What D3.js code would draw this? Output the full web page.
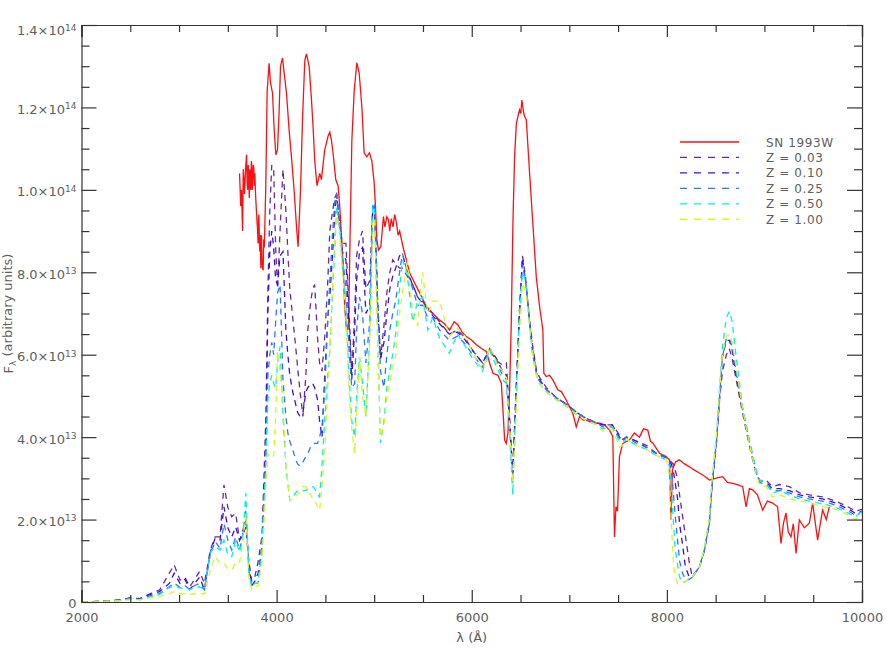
<!DOCTYPE html>
<html>
<head>
<meta charset="utf-8">
<script src="https://cdn.jsdelivr.net/npm/d3@7"></script>
<style>
  body { margin: 0; background: #fff; }
  text { font-family: "DejaVu Sans", sans-serif; fill: #606060; }
</style>
</head>
<body>
<div id="spectrum"></div>
<script>
// wavelength grid shared by the five model spectra (Angstrom)
const lambdaModel = [
  2000,2200,2400,2500,2600,2700,2800,2900,2950,3010,
  3060,3110,3160,3210,3260,3320,3370,3420,3460,3500,
  3540,3580,3620,3650,3685,3715,3745,3775,3810,3850,
  3890,3910,3930,3950,3970,3990,4010,4035,4065,4095,
  4115,4135,4165,4195,4215,4240,4270,4300,4320,4350,
  4370,4390,4420,4440,4465,4495,4525,4545,4575,4595,
  4615,4645,4675,4710,4740,4770,4800,4820,4850,4880,
  4915,4955,4985,5005,5035,5065,5100,5130,5160,5190,
  5220,5260,5290,5340,5395,5445,5495,5550,5600,5670,
  5770,5855,5935,6010,6110,6185,6255,6315,6355,6390,
  6420,6450,6490,6520,6550,6590,6625,6665,6695,6765,
  6870,6970,7075,7175,7280,7340,7440,7515,7545,7585,
  7690,7790,7895,7995,8025,8045,8065,8085,8110,8130,
  8160,8190,8230,8260,8335,8385,8435,8465,8510,8540,
  8570,8610,8640,8670,8710,8775,8845,8915,8950,9020,
  9080,9155,9255,9360,9460,9595,9730,9865,9935,10000
]

// model fluxes, in units of 1e13
const fluxZ003 = [
  0,0.02,0.05,0.1,0.08,0.2,0.29,0.7,0.9,0.53,
  0.6,0.37,0.55,0.74,0.45,1.26,1.58,1.58,2.84,2.3,
  2.07,2.15,1.5,1.6,1.82,1.0,0.5,0.6,0.97,1.6,
  4.5,7.5,9.5,10.6,10.5,8.6,7.6,9.0,10.5,9.5,
  8.5,7.6,6.9,6.2,5.7,5.1,4.5,5.5,6.6,7.3,
  7.6,7.7,6.4,5.8,5.6,6.5,7.8,9.0,9.5,9.8,
  9.9,9.1,8.7,8.7,7.2,5.5,7.0,8.4,8.8,9.0,
  7.6,7.8,9.6,9.5,7.2,5.9,6.7,7.5,8.0,8.3,
  8.2,8.1,8.1,7.9,7.7,7.4,7.3,7.1,7.0,6.8,
  6.5,6.6,6.4,6.1,5.8,6.1,5.85,5.75,5.8,4.4,
  3.1,4.8,7.0,8.4,7.9,6.9,6.2,5.6,5.45,5.2,
  4.95,4.8,4.6,4.45,4.35,4.3,4.3,4.05,3.95,4.0,
  3.9,3.8,3.6,3.5,3.45,3.4,3.35,3.2,3.0,2.6,
  2.1,1.6,0.95,0.62,0.86,1.26,1.91,2.85,3.9,4.9,
  5.6,6.0,6.15,5.9,5.4,4.6,3.8,3.1,2.95,2.95,
  2.8,2.85,2.8,2.65,2.6,2.55,2.45,2.3,2.2,2.25
]
const fluxZ010 = [
  0,0.02,0.05,0.1,0.08,0.18,0.25,0.45,0.7,0.45,
  0.55,0.3,0.45,0.6,0.3,1.2,1.55,1.5,2.31,1.8,
  1.58,1.82,1.5,1.7,1.98,0.9,0.4,0.5,0.7,1.34,
  3.8,7.0,8.5,9.0,8.6,7.8,7.7,8.4,8.5,6.6,
  6.0,5.5,5.1,4.8,4.6,4.5,4.6,5.1,5.2,5.3,
  5.3,5.2,4.9,4.4,4.0,5.6,6.9,7.4,8.5,9.4,
  9.9,9.2,8.5,8.3,6.8,5.4,6.6,7.8,8.5,8.6,
  7.0,7.2,9.5,9.6,7.3,5.9,6.3,7.0,7.6,7.9,
  8.1,8.4,8.45,8.0,7.7,7.4,7.25,7.1,6.95,6.75,
  6.5,6.55,6.35,6.1,5.8,6.15,5.9,5.6,5.5,4.3,
  3.1,4.9,7.1,8.35,7.8,6.85,6.1,5.55,5.4,5.15,
  4.95,4.8,4.6,4.45,4.35,4.3,4.3,4.0,3.9,4.0,
  3.9,3.75,3.6,3.5,3.4,3.35,3.2,2.9,2.5,1.9,
  1.4,0.85,0.6,0.6,0.86,1.26,1.91,2.88,3.93,4.98,
  5.95,6.35,6.35,6.1,5.5,4.7,3.9,3.15,2.95,2.9,
  2.75,2.75,2.7,2.6,2.55,2.5,2.4,2.25,2.15,2.2
]
const fluxZ025 = [
  0,0.02,0.04,0.08,0.06,0.15,0.2,0.37,0.46,0.35,
  0.4,0.3,0.4,0.45,0.3,1.15,1.47,1.3,1.9,1.5,
  1.26,1.58,1.26,1.6,2.23,0.8,0.37,0.45,0.45,1.34,
  3.45,5.5,6.0,6.3,6.0,6.8,7.5,7.7,5.4,4.5,
  4.1,3.9,3.7,3.45,3.35,3.3,3.4,3.53,3.6,3.77,
  3.8,3.85,3.85,4.0,4.25,5.2,6.9,7.8,9.0,9.7,
  9.9,9.2,8.4,7.6,6.2,5.2,5.3,6.6,7.4,7.0,
  5.8,6.8,9.6,9.7,7.2,5.6,5.2,6.0,6.6,7.0,
  7.3,8.0,8.46,8.0,7.6,7.2,7.2,6.9,6.9,6.6,
  6.35,6.45,6.25,6.0,5.7,6.15,5.85,5.5,5.4,4.2,
  2.9,4.8,7.1,8.2,7.8,6.8,6.0,5.5,5.35,5.15,
  4.95,4.8,4.6,4.45,4.35,4.25,4.25,3.95,3.9,4.0,
  3.85,3.75,3.6,3.5,3.4,3.2,2.7,2.1,1.5,1.0,
  0.7,0.55,0.55,0.6,0.86,1.26,1.91,2.9,3.95,5.0,
  5.95,6.4,6.4,6.2,5.6,4.7,3.9,3.15,2.9,2.85,
  2.7,2.7,2.65,2.55,2.5,2.45,2.35,2.2,2.1,2.2
]
const fluxZ050 = [
  0,0.02,0.04,0.08,0.06,0.12,0.18,0.35,0.4,0.33,
  0.35,0.3,0.35,0.37,0.3,1.2,1.34,1.26,1.5,1.15,
  1.1,1.5,1.2,1.5,2.64,0.7,0.37,0.45,0.45,1.34,
  3.45,4.9,5.3,5.5,5.3,5.2,5.8,6.2,4.5,3.3,
  2.88,2.47,2.55,2.65,2.7,2.7,2.7,2.7,2.75,2.8,
  2.8,2.75,2.6,2.55,3.3,4.5,5.5,6.1,7.6,8.5,
  9.6,9.1,8.2,7.2,5.6,4.4,4.0,5.0,5.95,5.3,
  4.5,6.5,9.6,9.6,6.5,3.86,4.4,5.2,5.63,6.0,
  6.5,7.6,8.3,7.9,6.8,7.3,7.4,6.6,6.9,6.4,
  6.04,6.5,6.2,5.9,5.6,6.1,5.7,5.4,5.3,4.0,
  2.6,4.6,7.0,8.0,7.8,6.8,6.0,5.5,5.3,5.1,
  4.9,4.75,4.55,4.4,4.3,4.2,4.25,3.9,3.85,3.95,
  3.8,3.7,3.55,3.45,3.3,2.8,2.0,1.3,0.9,0.61,
  0.46,0.5,0.55,0.6,0.86,1.3,2.0,3.0,4.1,5.2,
  6.2,6.9,7.05,6.8,5.95,4.74,3.93,3.2,2.96,2.88,
  2.64,2.7,2.6,2.5,2.45,2.38,2.3,2.15,2.07,2.2
]
const fluxZ100 = [
  0,0.01,0.03,0.06,0.05,0.1,0.13,0.2,0.25,0.2,
  0.2,0.18,0.2,0.2,0.2,0.78,1.1,0.94,0.94,0.8,
  0.78,0.94,0.94,1.4,2.15,0.6,0.3,0.35,0.4,0.97,
  2.84,3.6,3.5,3.5,3.55,4.5,6.1,5.6,4.9,3.3,
  2.9,2.47,2.5,2.55,2.6,2.7,2.8,2.8,2.7,2.6,
  2.5,2.47,2.3,2.23,2.8,3.7,5.2,6.1,7.8,8.8,
  9.4,9.0,8.0,6.9,5.2,4.2,3.6,4.6,5.95,5.0,
  4.5,6.3,9.2,9.3,6.3,4.0,4.3,5.0,5.3,5.7,
  5.95,7.0,7.5,8.3,7.0,6.7,8.0,7.0,7.3,7.3,
  6.44,6.65,6.44,6.04,5.63,6.2,5.8,5.6,5.5,4.2,
  2.9,4.2,6.5,7.74,7.57,6.76,5.95,5.47,5.3,5.1,
  4.9,4.75,4.55,4.4,4.3,4.15,4.2,3.75,3.8,3.95,
  3.8,3.7,3.55,3.45,3.1,2.0,1.0,0.6,0.45,0.45,
  0.48,0.5,0.55,0.6,0.86,1.3,2.0,3.0,4.05,5.1,
  6.0,6.45,6.5,6.3,5.7,4.7,3.85,3.1,2.85,2.8,
  2.55,2.6,2.5,2.45,2.4,2.32,2.25,2.1,2.0,2.15
]

// observed spectrum of SN 1993W: [wavelength, flux / 1e13]
const sn1993w = [
  [3620,10.4],[3632,9.6],[3640,10.0],[3651,9.0],[3658,10.5],[3664,10.3],[3670,9.9],[3675,10.1],
  [3684,10.6],[3692,10.85],[3698,10.2],[3703,10.0],[3709,10.6],[3715,10.2],[3720,9.8],[3725,10.5],
  [3730,10.2],[3736,10.0],[3741,10.7],[3746,10.6],[3751,10.0],[3756,10.3],[3762,10.6],[3767,10.5],
  [3772,10.1],[3777,10.4],[3782,10.0],[3787,9.75],[3793,9.5],[3800,9.2],[3805,9.0],[3810,8.7],
  [3814,9.3],[3818,9.4],[3823,8.8],[3828,8.5],[3833,8.9],[3838,8.1],[3845,8.9],[3850,8.3],
  [3855,8.1],[3862,8.05],[3868,8.8],[3874,8.6],
  [3889,10.1],[3903,12.4],[3923,13.07],[3937,12.6],[3958,12.35],[3974,11.5],[3992,10.85],[4009,10.97],
  [4025,11.87],[4040,13.0],[4060,13.2],[4077,12.84],[4101,12.35],[4128,11.45],[4152,10.8],[4179,10.0],
  [4204,9.1],[4220,8.62],[4245,10.0],[4265,11.7],[4289,13.15],[4306,13.3],[4333,13.0],[4357,12.2],
  [4374,11.5],[4391,10.7],[4414,10.1],[4442,10.4],[4459,10.25],[4493,10.97],[4527,11.3],[4545,11.4],
  [4562,11.2],[4578,10.9],[4606,10.25],[4630,10.1],[4647,9.6],[4675,8.46],[4698,7.17],[4716,6.6],
  [4737,6.7],[4754,9.0],[4771,11.2],[4795,12.4],[4822,13.08],[4846,12.84],[4874,12.0],[4897,10.9],
  [4925,10.8],[4952,10.9],[4976,10.7],[5000,10.17],[5013,9.6],[5027,8.8],[5044,8.54],[5068,8.62],
  [5095,9.35],[5110,9.1],[5130,9.35],[5147,9.27],[5159,9.0],[5175,9.3],[5193,9.1],[5210,9.4],
  [5228,9.2],[5245,8.9],[5261,9.0],[5295,8.62],[5330,8.3],[5364,7.98],[5415,7.74],[5466,7.5],
  [5535,7.17],[5602,7.0],[5671,6.84],[5720,6.75],[5773,6.6],[5820,6.8],[5859,6.72],[5900,6.55],
  [5944,6.44],[6000,6.35],[6047,6.24],[6100,6.15],[6149,6.08],[6183,5.8],[6217,5.55],[6268,5.5],
  [6303,5.31],[6320,4.66],[6337,3.93],[6354,3.85],[6371,4.1],[6388,5.15],[6405,6.76],[6422,9.2],
  [6439,10.8],[6457,11.6],[6473,11.78],[6490,11.94],[6502,11.85],[6514,12.18],[6530,11.9],[6542,11.78],
  [6559,11.7],[6593,10.4],[6626,9.19],[6661,7.9],[6695,7.17],[6729,6.6],[6739,5.55],[6763,5.47],
  [6797,5.5],[6831,5.39],[6882,5.15],[6920,5.1],[6968,4.9],[7000,4.75],[7036,4.58],[7071,4.25],
  [7105,4.5],[7139,4.42],[7187,4.4],[7242,4.34],[7310,4.34],[7361,4.3],[7412,4.17],[7446,4.01],
  [7463,1.58],[7478,2.31],[7494,2.2],[7514,3.53],[7548,3.85],[7616,3.93],[7667,4.1],[7719,4.0],
  [7760,4.2],[7804,4.17],[7832,3.9],[7855,3.86],[7924,3.61],[7992,3.53],[8026,3.45],[8042,2.0],
  [8057,3.2],[8088,3.4],[8128,3.45],[8180,3.35],[8231,3.28],[8282,3.2],[8333,3.13],[8385,3.05],
  [8436,2.96],[8497,3.0],[8572,3.04],[8620,2.9],[8674,2.88],[8722,2.85],[8777,2.8],[8812,2.31],
  [8846,2.75],[8880,2.72],[8928,2.6],[8982,2.23],[9030,2.45],[9084,2.4],[9135,2.31],[9170,1.42],
  [9194,1.9],[9221,2.16],[9244,1.7],[9272,1.58],[9296,1.9],[9324,1.18],[9358,1.99],[9409,1.8],
  [9460,1.91],[9494,2.4],[9545,1.5],[9596,2.23],[9634,2.0],[9665,2.31]
]

const seriesNames = ["SN 1993W", "Z = 0.03", "Z = 0.10", "Z = 0.25", "Z = 0.50", "Z = 1.00"]
const seriesColors = ["#ff1010", "#6a2a98", "#3d0ce8", "#2a78ff", "#00f0f0", "#dcf51a"]
const modelFluxes = [fluxZ003, fluxZ010, fluxZ025, fluxZ050, fluxZ100]

const xMajorTicks = [2000, 4000, 6000, 8000, 10000]
const yMajorTicks = [0, 2, 4, 6, 8, 10, 12, 14]
const yTickMantissa = ["0", "2.0", "4.0", "6.0", "8.0", "1.0", "1.2", "1.4"]
const yTickExponent = ["", "13", "13", "13", "13", "14", "14", "14"]

const W = 887, H = 654
const margin = {top: 25, right: 25, bottom: 52, left: 81.5}
const width = W - margin.left - margin.right,
      height = H - margin.top - margin.bottom

const svg = d3.select("#spectrum")
  .append("svg")
  .attr("width", W)
  .attr("height", H)

const g = svg.append("g")
  .attr("transform", `translate(${margin.left},${margin.top})`)

const x = d3.scaleLinear().domain([2000, 10000]).range([0, width])
const y = d3.scaleLinear().domain([0, 14]).range([height, 0])

g.append("clipPath").attr("id", "plot-clip")
  .append("rect").attr("width", width).attr("height", height)

const line = d3.line()
  .x(d => x(d[0]))
  .y(d => y(d[1]))

const curves = g.append("g").attr("clip-path", "url(#plot-clip)")

// observed spectrum
curves.append("path")
  .datum(sn1993w)
  .attr("fill", "none")
  .attr("stroke", seriesColors[0])
  .attr("stroke-width", 1.3)
  .attr("d", line)

// model spectra, dashed
modelFluxes.forEach((flux, i) => {
  curves.append("path")
    .datum(lambdaModel.map((l, j) => [l, flux[j]]))
    .attr("fill", "none")
    .attr("stroke", seriesColors[i + 1])
    .attr("stroke-width", 1.3)
    .attr("stroke-dasharray", "6,5")
    .attr("d", line)
})

// axes: ticks pointing inward on all four sides
const xMinor = d3.range(2000, 10001, 500).filter(v => v % 2000 !== 0)
const yMinor = d3.range(0, 14.01, 0.5).filter(v => v % 2 !== 0)

function styleAxis(sel) {
  sel.selectAll("line").attr("stroke", "#333").attr("stroke-width", 1.2)
  sel.select(".domain").attr("stroke", "#333").attr("stroke-width", 1.2)
}

const xBottom = g.append("g")
  .attr("transform", `translate(0,${height})`)
  .call(d3.axisBottom(x).tickValues(xMajorTicks).tickSize(-12).tickPadding(11).tickFormat(d3.format("d")))
xBottom.call(styleAxis)
xBottom.selectAll("text")
  .attr("fill", "#606060")
  .style("font-size", "13px")
  .style("font-family", "DejaVu Sans, sans-serif")

g.append("g")
  .attr("transform", `translate(0,${height})`)
  .call(d3.axisBottom(x).tickValues(xMinor).tickSize(-7).tickFormat(""))
  .call(styleAxis)
  .select(".domain").remove()

g.append("g")
  .call(d3.axisTop(x).tickValues(xMajorTicks).tickSize(-12).tickFormat(""))
  .call(styleAxis)
g.append("g")
  .call(d3.axisTop(x).tickValues(xMinor).tickSize(-7).tickFormat(""))
  .call(styleAxis)
  .select(".domain").remove()

const yLeft = g.append("g")
  .call(d3.axisLeft(y).tickValues(yMajorTicks).tickSize(-15).tickPadding(5))
yLeft.call(styleAxis)
yLeft.selectAll("text")
  .text(null)
  .attr("fill", "#606060")
  .style("font-size", "13px")
  .style("font-family", "DejaVu Sans, sans-serif")
  .attr("dy", (d, i) => i === yMajorTicks.length - 1 ? "0.75em" : "0.45em")
  .each(function(d, i) {
    const t = d3.select(this)
    if (yTickExponent[i] === "") {
      t.text(yTickMantissa[i])
      return
    }
    t.append("tspan").text(yTickMantissa[i] + "\u00d710")
    t.append("tspan")
      .attr("dy", "-0.5em")
      .style("font-size", "9px")
      .text(yTickExponent[i])
  })

g.append("g")
  .call(d3.axisLeft(y).tickValues(yMinor).tickSize(-8).tickFormat(""))
  .call(styleAxis)
  .select(".domain").remove()

g.append("g")
  .attr("transform", `translate(${width},0)`)
  .call(d3.axisRight(y).tickValues(yMajorTicks).tickSize(-15).tickFormat(""))
  .call(styleAxis)
g.append("g")
  .attr("transform", `translate(${width},0)`)
  .call(d3.axisRight(y).tickValues(yMinor).tickSize(-8).tickFormat(""))
  .call(styleAxis)
  .select(".domain").remove()

// axis titles
g.append("text")
  .attr("x", width / 2)
  .attr("y", height + 40)
  .attr("text-anchor", "middle")
  .style("font-size", "13px")
  .text("\u03bb (\u00c5)")

const yTitle = svg.append("text")
  .attr("transform", `translate(13,${margin.top + height / 2}) rotate(-90)`)
  .attr("text-anchor", "middle")
  .style("font-size", "13px")
yTitle.append("tspan").text("F")
yTitle.append("tspan").attr("dy", "0.3em").style("font-size", "9px").text("\u03bb")
yTitle.append("tspan").attr("dy", "-0.3em").text(" (arbitrary units)")

// legend
const legend = svg.append("g").attr("transform", "translate(680,142)")
seriesNames.forEach((name, i) => {
  const row = legend.append("g").attr("transform", `translate(0,${i * 15.45})`)
  row.append("line")
    .attr("x1", 0).attr("x2", 59)
    .attr("stroke", seriesColors[i])
    .attr("stroke-width", 1.3)
    .attr("stroke-dasharray", i === 0 ? null : "7,7")
  row.append("text")
    .attr("x", 86)
    .attr("dy", "0.38em")
    .style("font-size", "12px")
    .style("letter-spacing", "0.6px")
    .text(name)
})
</script>
</body>
</html>
